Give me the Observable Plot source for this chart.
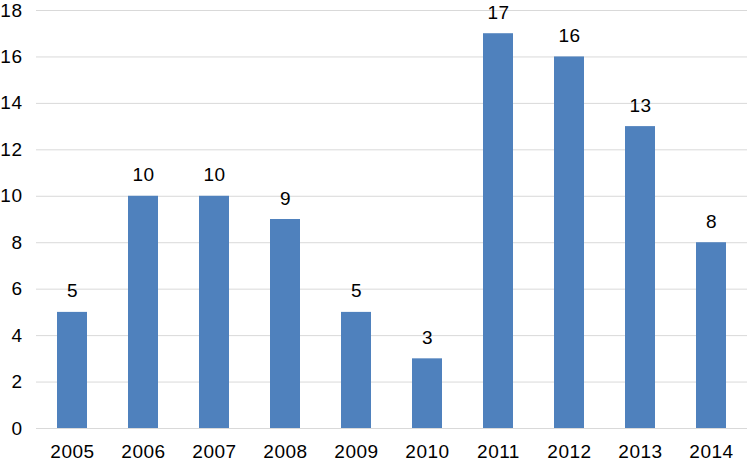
<!DOCTYPE html>
<html>
<head>
<meta charset="utf-8">
<script src="https://cdn.jsdelivr.net/npm/d3@7"></script>
<script src="https://cdn.jsdelivr.net/npm/@observablehq/plot@0.6"></script>
<style>
  html, body { margin: 0; padding: 0; background: #fff; }
  svg { display: block; }
  svg text { letter-spacing: 0.5px; }
</style>
</head>
<body>
<div id="chart"></div>
<script>
const years = ["2005","2006","2007","2008","2009","2010","2011","2012","2013","2014"];
const counts = [5, 10, 10, 9, 5, 3, 17, 16, 13, 8];
const yTicks = [0, 2, 4, 6, 8, 10, 12, 14, 16, 18];

const data = years.map((y, i) => ({year: y, count: counts[i]}));

const chart = Plot.plot({
  width: 750,
  height: 462,
  marginLeft: 36,
  marginRight: 3,
  marginTop: 10,
  marginBottom: 34,
  style: {fontFamily: "'Liberation Sans', Arial, Helvetica, sans-serif", fontSize: "19px", color: "#000", background: "#fff"},
  x: {domain: years, paddingInner: 0.58, paddingOuter: 0.29, label: null},
  y: {domain: [0, 18], ticks: yTicks, label: null},
  marks: [
    Plot.ruleY(yTicks, {stroke: "#d9d9d9", strokeWidth: 1, strokeOpacity: 1}),
    Plot.barY(data, {x: "year", y: "count", fill: "#4f81bd"}),
    Plot.text(data, {x: "year", y: "count", text: d => String(d.count), dy: -21, fill: "#000", fontSize: 19}),
    Plot.axisY({ticks: yTicks, tickSize: 0, tickPadding: 14, fontSize: 19, label: null}),
    Plot.axisX({tickSize: 0, tickPadding: 16, fontSize: 19, label: null})
  ]
});
document.getElementById("chart").appendChild(chart);
</script>
</body>
</html>
